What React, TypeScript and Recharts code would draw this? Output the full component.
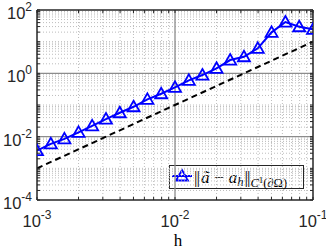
import React from 'react';
import { LineChart, Line, XAxis, YAxis, ReferenceLine, Customized } from 'recharts';

// ---- data ----
const hValues = [0.001, 0.00126, 0.00158, 0.002, 0.00251, 0.00316, 0.00398, 0.00501, 0.00631, 0.00794,
  0.01, 0.0126, 0.0158, 0.02, 0.0251, 0.0316, 0.0398, 0.0501, 0.0631, 0.0794, 0.1];
const errValues = [0.0036, 0.0059, 0.0085, 0.0137, 0.022, 0.036, 0.057, 0.088, 0.151, 0.227,
  0.361, 0.601, 0.883, 1.44, 2.63, 3.34, 6.16, 19.7, 41.7, 29.6, 24.5];
const refH = [0.001, 0.1];
const refValues = [0.001, 10];

const xTicks = [0.001, 0.01, 0.1];
const yTicks = [0.0001, 0.01, 1, 100];
const xDecades = [0.001, 0.01, 0.1];
const yDecades = [0.0001, 0.001, 0.01, 0.1, 1, 10, 100];
const minorMult = [2, 3, 4, 5, 6, 7, 8, 9];
const xMajorGrid = [0.01];
const yMajorGrid = [0.01, 1];

const X_DOMAIN: [number, number] = [0.001, 0.1];
const Y_DOMAIN: [number, number] = [0.0001, 100];

const seriesData = hValues.map((h, i) => ({ h, e: errValues[i] }));
const refData = refH.map((h, i) => ({ h, r: refValues[i] }));

const xMinor: number[] = [];
xDecades.forEach((d, i) => {
  if (i < xDecades.length - 1) minorMult.forEach((m) => xMinor.push(d * m));
});
const yMinor: number[] = [];
yDecades.forEach((d, i) => {
  if (i < yDecades.length - 1) minorMult.forEach((m) => yMinor.push(d * m));
});
const xOddDecades = xDecades.filter((d) => !xTicks.includes(d));
const yOddDecades = yDecades.filter((d) => !yTicks.includes(d));
const xAllTicks = [...xDecades, ...xMinor].sort((a, b) => a - b);
const yAllTicks = [...yDecades, ...yMinor].sort((a, b) => a - b);
const xMinorGrid = [...xMinor, ...xOddDecades];
const yMinorGrid = [...yMinor, ...yOddDecades];

const BLUE = '#0000ff';
const AXIS = '#262626';
const SANS = '"Liberation Sans", Arial, sans-serif';
const SERIF = '"Liberation Serif", "Times New Roman", serif';

const triPath = (cx: number, cy: number) =>
  `M${cx},${cy - 6} L${cx + 6},${cy + 4.5} L${cx - 6},${cy + 4.5} Z`;

const exp = (v: number) => String(Math.round(Math.log10(v)));

const XTick = (props: any) => {
  const { x, y, payload } = props;
  return (
    <text x={x} y={y + 27} textAnchor="middle" fontFamily={SANS} fontSize={16.5} fill={AXIS}>
      <tspan>10</tspan>
      <tspan dy={-8} fontSize={12}>{exp(payload.value)}</tspan>
    </text>
  );
};

const YTick = (props: any) => {
  const { x, y, payload } = props;
  return (
    <text x={x} y={y + 9} textAnchor="end" fontFamily={SANS} fontSize={16.5} fill={AXIS}>
      <tspan>10</tspan>
      <tspan dy={-8} fontSize={12}>{exp(payload.value)}</tspan>
    </text>
  );
};

const Empty = () => <g />;

const TriDot = (props: any) => {
  const { cx, cy, index } = props;
  if (cx == null || cy == null) return <g key={`d${index}`} />;
  return <path key={`d${index}`} d={triPath(cx, cy)} fill="none" stroke={BLUE} strokeWidth={1.8} />;
};

const LegendBox = () => (
  <g>
    <rect x={169.5} y={165.5} width={134} height={23} fill="#fff" stroke={AXIS} strokeWidth={1} />
    <line x1={172} y1={176} x2={192} y2={176} stroke={BLUE} strokeWidth={2} />
    <path d={triPath(182, 176)} fill="none" stroke={BLUE} strokeWidth={1.8} />
    <text x={194} y={182.5} fontFamily={SERIF} fontSize={17.5} fill="#000">
      <tspan letterSpacing={-1}>||</tspan>
      <tspan dx={2} fontStyle="italic">ã</tspan>
      <tspan> − </tspan>
      <tspan fontStyle="italic">a</tspan>
      <tspan fontStyle="italic" fontSize={12.5} dy={3}>h</tspan>
      <tspan dx={1} dy={-3} letterSpacing={-1}>||</tspan>
      <tspan dx={1} fontSize={12.5} dy={4} fontStyle="italic">C</tspan>
      <tspan fontSize={9} dy={-4}>1</tspan>
      <tspan fontSize={12.5} dy={4}>(∂Ω)</tspan>
    </text>
  </g>
);

export default function App() {
  return (
    <div style={{ position: 'absolute', left: 0, top: 0, width: 326, height: 249, background: '#fff' }}>
      <LineChart width={326} height={249} data={seriesData} margin={{ top: 10, right: 13, bottom: 0, left: 0 }}>
        {/* label axes */}
        <XAxis dataKey="h" type="number" scale="log" domain={X_DOMAIN} allowDataOverflow ticks={xTicks}
          interval={0} height={49} axisLine={false} tickLine={false} tickSize={0} tickMargin={0} tick={<XTick />}
          label={{ value: 'h', position: 'insideBottom', offset: 3, dx: 3, style: { fontFamily: SERIF, fontSize: 17, fill: '#000' } }} />
        <YAxis type="number" scale="log" domain={Y_DOMAIN} allowDataOverflow ticks={yTicks} interval={0}
          width={37} axisLine={false} tickLine={false} tickSize={0} tickMargin={5} tick={<YTick />} />
        {/* mirrored axes for inward ticks and box */}
        <XAxis xAxisId="bm" dataKey="h" type="number" scale="log" domain={X_DOMAIN} allowDataOverflow ticks={xAllTicks}
          interval={0} orientation="bottom" mirror tickSize={3} tick={<Empty />} axisLine={{ stroke: AXIS, strokeWidth: 1.5 }} tickLine={{ stroke: AXIS }} />
        <XAxis xAxisId="tm" dataKey="h" type="number" scale="log" domain={X_DOMAIN} allowDataOverflow ticks={xAllTicks}
          interval={0} orientation="top" mirror tickSize={3} tick={<Empty />} axisLine={{ stroke: AXIS, strokeWidth: 1.5 }} tickLine={{ stroke: AXIS }} />
        <YAxis yAxisId="lm" type="number" scale="log" domain={Y_DOMAIN} allowDataOverflow ticks={yAllTicks}
          interval={0} orientation="left" mirror tickSize={3} tick={<Empty />} axisLine={{ stroke: AXIS, strokeWidth: 1.5 }} tickLine={{ stroke: AXIS }} />
        <YAxis yAxisId="rm" type="number" scale="log" domain={Y_DOMAIN} allowDataOverflow ticks={yAllTicks}
          interval={0} orientation="right" mirror tickSize={3} tick={<Empty />} axisLine={{ stroke: AXIS, strokeWidth: 1.5 }} tickLine={{ stroke: AXIS }} />

        {xMinorGrid.map((v) => (
          <ReferenceLine key={`xm${v}`} x={v} stroke="#bdbdbd" strokeWidth={1} strokeDasharray="1 2" ifOverflow="hidden" />
        ))}
        {yMinorGrid.map((v) => (
          <ReferenceLine key={`ym${v}`} y={v} stroke="#bdbdbd" strokeWidth={1} strokeDasharray="1 2" ifOverflow="hidden" />
        ))}
        {xMajorGrid.map((v) => (
          <ReferenceLine key={`xM${v}`} x={v} stroke="#8c8c8c" strokeWidth={1.3} />
        ))}
        {yMajorGrid.map((v) => (
          <ReferenceLine key={`yM${v}`} y={v} stroke="#8c8c8c" strokeWidth={1.3} />
        ))}

        <Line data={refData} dataKey="r" type="linear" stroke="#000" strokeWidth={2} strokeDasharray="6 4"
          dot={false} isAnimationActive={false} />
        <Line dataKey="e" type="linear" stroke={BLUE} strokeWidth={2} dot={<TriDot />} isAnimationActive={false} />
        <Customized component={<LegendBox />} />
      </LineChart>
    </div>
  );
}
